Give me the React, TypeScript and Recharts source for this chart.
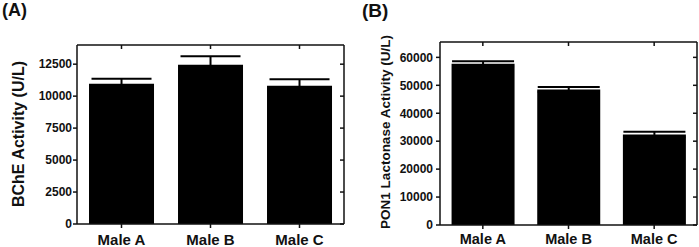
import React from 'react';
import { BarChart, Bar, XAxis, YAxis, ErrorBar } from 'recharts';

const categories = ['Male A', 'Male B', 'Male C'];

// Panel A: butyrylcholinesterase activity (U/L)
const bcheMean = [10970, 12450, 10810];
const bcheErr = [390, 675, 520];
const bcheTicks = [0, 2500, 5000, 7500, 10000, 12500];

// Panel B: paraoxonase-1 lactonase activity (U/L)
const pon1Mean = [57700, 48500, 32400];
const pon1Err = [950, 930, 960];
const pon1Ticks = [0, 10000, 20000, 30000, 40000, 50000, 60000];

const bcheData = categories.map((name, i) => ({ name, value: bcheMean[i], err: bcheErr[i] }));
const pon1Data = categories.map((name, i) => ({ name, value: pon1Mean[i], err: pon1Err[i] }));

const FONT = '"Liberation Sans", Arial, sans-serif';
const INK = '#111';

const yTickStyle = { fontSize: 12, fontWeight: 700, fill: INK, fontFamily: FONT };
const blank = () => '';

type PanelProps = {
  data: { name: string; value: number; err: number }[];
  domainMax: number;
  ticks: number[];
  margin: { top: number; right: number; left: number; bottom: number };
  xHeight: number;
  xTickMargin: number;
  xFontSize: number;
  yTickMargin: number;
  capWidth: number;
  ylabel: string;
  ylabelX: number;
  ylabelY: number;
  ylabelSize: number;
  width: number;
};

function Panel(p: PanelProps) {
  const axisLine = { stroke: INK, strokeWidth: 1.5 };
  const tickLine = { stroke: INK, strokeWidth: 1.5 };
  const xTickStyle = { fontSize: p.xFontSize, fontWeight: 700, fill: INK, fontFamily: FONT };
  return (
    <BarChart
      width={p.width}
      height={247}
      data={p.data}
      margin={p.margin}
      barCategoryGap="13.5%"
    >
      <XAxis
        dataKey="name"
        xAxisId="bottom"
        height={p.xHeight}
        tick={xTickStyle}
        tickSize={4}
        tickMargin={p.xTickMargin}
        axisLine={axisLine}
        tickLine={tickLine}
        interval={0}
      />
      {/* top frame edge with inward ticks at the category centres */}
      <XAxis
        dataKey="name"
        xAxisId="top"
        orientation="top"
        mirror
        height={30}
        tickFormatter={blank}
        tickSize={4}
        axisLine={axisLine}
        tickLine={tickLine}
        interval={0}
      />
      <YAxis
        yAxisId="left"
        width={60}
        domain={[0, p.domainMax]}
        ticks={p.ticks}
        tick={yTickStyle}
        tickSize={4}
        tickMargin={p.yTickMargin}
        axisLine={axisLine}
        tickLine={tickLine}
        allowDataOverflow
        label={{
          content: () => (
            <text
              x={p.ylabelX}
              y={p.ylabelY}
              transform={`rotate(-90 ${p.ylabelX} ${p.ylabelY})`}
              textAnchor="middle"
              dominantBaseline="central"
              fontFamily={FONT}
              fontSize={p.ylabelSize}
              fontWeight={700}
              fill={INK}
            >
              {p.ylabel}
            </text>
          ),
        }}
      />
      {/* right frame edge with inward ticks */}
      <YAxis
        yAxisId="right"
        orientation="right"
        mirror
        width={60}
        domain={[0, p.domainMax]}
        ticks={p.ticks}
        tickFormatter={blank}
        tickSize={4}
        axisLine={axisLine}
        tickLine={tickLine}
        allowDataOverflow
      />
      <Bar
        dataKey="value"
        xAxisId="bottom"
        yAxisId="left"
        fill="#000"
        isAnimationActive={false}
      >
        <ErrorBar
          dataKey="err"
          direction="y"
          width={p.capWidth}
          stroke="#000"
          strokeWidth={2}
          isAnimationActive={false}
        />
      </Bar>
    </BarChart>
  );
}

export default function App() {
  return (
    <div
      style={{
        position: 'absolute',
        left: 0,
        top: 0,
        width: 699,
        height: 247,
        background: '#fff',
        fontFamily: FONT,
      }}
    >
      <div style={{ position: 'absolute', left: 0, top: 0, width: 350, height: 247 }}>
        <Panel
          width={350}
          data={bcheData}
          domainMax={14000}
          ticks={bcheTicks}
          margin={{ top: 45, right: 6, left: 17, bottom: 0 }}
          xHeight={23}
          xTickMargin={6}
          xFontSize={15}
          yTickMargin={1}
          capWidth={30}
          ylabel="BChE Activity (U/L)"
          ylabelX={18}
          ylabelY={134}
          ylabelSize={16}
        />
        <div
          style={{
            position: 'absolute',
            left: 2,
            top: -1,
            fontSize: 18,
            fontWeight: 700,
            color: INK,
            lineHeight: '22px',
          }}
        >
          (A)
        </div>
      </div>
      <div style={{ position: 'absolute', left: 350, top: 0, width: 349, height: 247 }}>
        <Panel
          width={349}
          data={pon1Data}
          domainMax={65500}
          ticks={pon1Ticks}
          margin={{ top: 42, right: 2, left: 30, bottom: 0 }}
          xHeight={22}
          xTickMargin={5}
          xFontSize={14.5}
          yTickMargin={3}
          capWidth={31}
          ylabel="PON1 Lactonase Activity (U/L)"
          ylabelX={35}
          ylabelY={132}
          ylabelSize={13.5}
        />
        <div
          style={{
            position: 'absolute',
            left: 12,
            top: -1,
            fontSize: 19,
            fontWeight: 700,
            color: INK,
            lineHeight: '23px',
          }}
        >
          (B)
        </div>
      </div>
    </div>
  );
}
